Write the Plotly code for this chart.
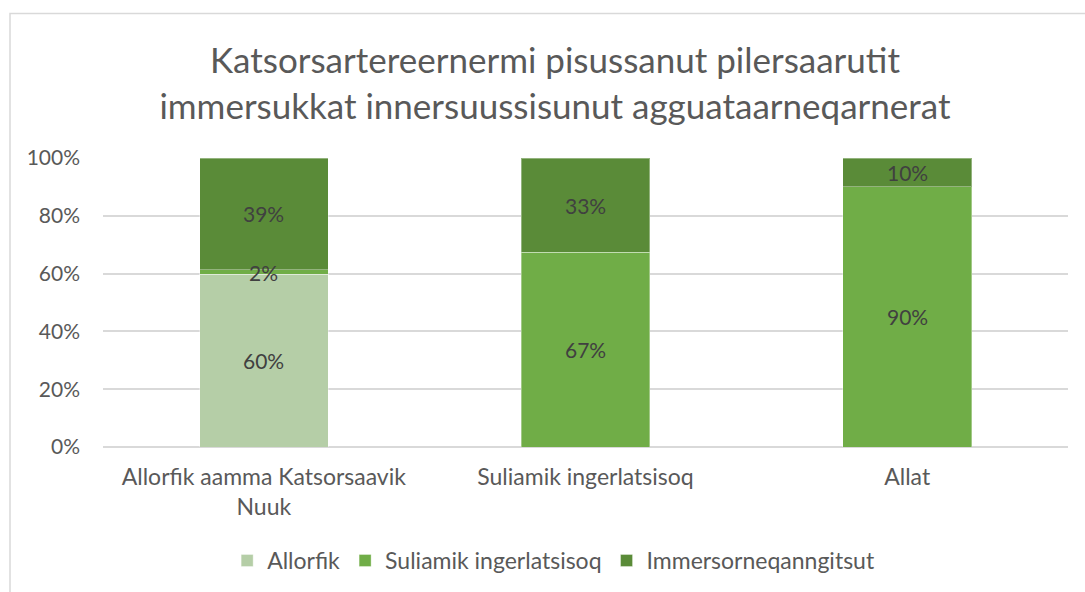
import plotly.graph_objects as go

# Share of plans per responsible party, by type of institution
categories = ["Allorfik aamma Katsorsaavik<br>Nuuk", "Suliamik ingerlatsisoq", "Allat"]
allorfik = [59.7, 0.0, 0.0]
suliamik = [1.6, 67.4, 90.0]
immersorneqanngitsut = [38.7, 32.6, 10.0]

series = [
    ("Allorfik", allorfik, "#b5cea7"),
    ("Suliamik ingerlatsisoq", suliamik, "#70ad47"),
    ("Immersorneqanngitsut", immersorneqanngitsut, "#5a8b38"),
]

FONT = "Lato, 'Open Sans', sans-serif"

fig = go.Figure()
for name, vals, color in series:
    fig.add_trace(go.Bar(
        x=categories,
        y=vals,
        name=name,
        marker=dict(color=color, line=dict(color="rgba(255,255,255,0.35)", width=1)),
        hoverinfo="skip",
    ))

# Value labels sit on top of all segments so thin segments stay readable
annotations = []
base = [0.0] * len(categories)
for name, vals, color in series:
    for i, v in enumerate(vals):
        if v > 0:
            annotations.append(dict(
                x=categories[i], y=base[i] + v / 2, xref="x", yref="y",
                text=f"{v:.0f}%", showarrow=False,
                font=dict(family=FONT, size=21, color="#404040"),
            ))
        base[i] += v

fig.update_layout(
    barmode="stack",
    bargap=0.6,
    width=1085,
    height=592,
    margin=dict(l=103, r=17, t=158, b=144),
    paper_bgcolor="white",
    plot_bgcolor="white",
    font=dict(family=FONT, color="#595959"),
    annotations=annotations,
    title=dict(
        text="Katsorsartereernermi pisussanut pilersaarutit<br>immersukkat innersuussisunut agguataarneqarnerat",
        x=0.5115,
        xanchor="center",
        y=0.876,
        yanchor="middle",
        font=dict(family=FONT, size=35, color="#595959"),
    ),
    showlegend=True,
    legend=dict(
        orientation="h",
        x=0.467,
        xanchor="center",
        y=-0.388,
        yanchor="middle",
        font=dict(family=FONT, size=23, color="#595959"),
        itemwidth=30,
        traceorder="normal",
    ),
    xaxis=dict(
        showgrid=False,
        showline=False,
        ticks="",
        ticklabelstandoff=14,
        tickfont=dict(family=FONT, size=23, color="#595959"),
    ),
    yaxis=dict(
        range=[0, 100],
        tickvals=[0, 20, 40, 60, 80, 100],
        ticktext=["0%", "20%", "40%", "60%", "80%", "100%"],
        showgrid=True,
        gridcolor="#d9d9d9",
        gridwidth=1.5,
        zeroline=True,
        zerolinecolor="#d9d9d9",
        zerolinewidth=1.5,
        showline=False,
        ticks="",
        ticklabelstandoff=22,
        tickfont=dict(family=FONT, size=21, color="#595959"),
    ),
    shapes=[
        dict(
            type="rect",
            xref="paper", yref="paper",
            x0=(10 - 103) / 965, x1=(1095 - 103) / 965,
            y0=(448 - 600) / 290, y1=(448 - 13) / 290,
            line=dict(color="#d9d9d9", width=1.5),
            fillcolor="rgba(0,0,0,0)",
            layer="below",
        )
    ],
)

fig.write_html("out.html")
